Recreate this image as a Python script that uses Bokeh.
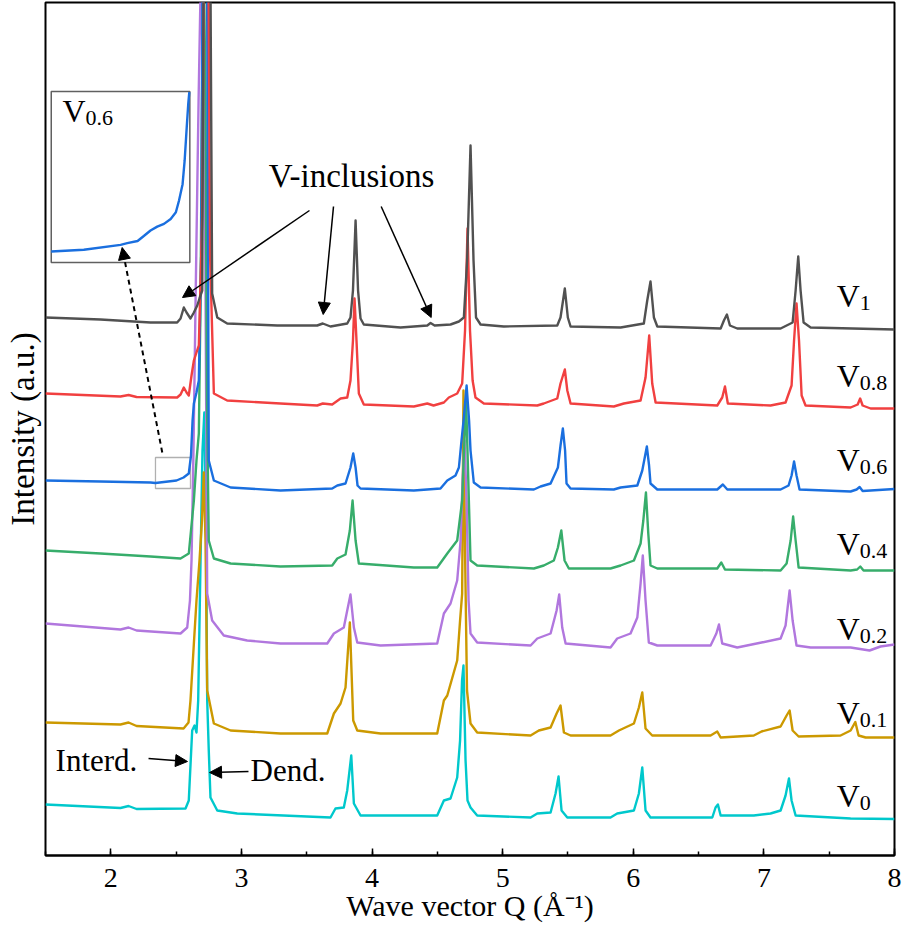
from bokeh.plotting import figure
from bokeh.models import Range1d, Label, Arrow, NormalHead, SingleIntervalTicker, LinearAxis, FixedTicker
from bokeh.embed import file_html
from bokeh.resources import INLINE

FONT = "Liberation Serif"

# ---------------- data (Q in 1/Angstrom, intensity in a.u. incl. offset) -------------
v1_q = [1.5, 1.921, 2.304, 2.508, 2.534, 2.559, 2.580, 2.610, 2.636, 2.662,
        2.679, 2.700, 2.711, 2.736, 2.762, 2.776, 2.815, 2.891,
        3.274, 3.580, 3.623, 3.682, 3.810, 3.835, 3.854, 3.874, 3.893, 3.912,
        3.937, 4.218, 4.423, 4.448, 4.479, 4.601, 4.665, 4.703, 4.728, 4.754,
        4.777, 4.796, 4.831, 5.009, 5.418, 5.443, 5.476, 5.499, 5.520, 5.903,
        6.081, 6.107, 6.132, 6.158, 6.184, 6.669, 6.694, 6.717, 6.740, 6.796,
        7.128, 7.220, 7.243, 7.263, 7.281, 7.304, 7.358, 8.0]
v1_i = [538, 536, 533, 533, 537, 548, 543, 537, 543, 550,
        557, 565, 900, 1000, 900, 562, 538, 532,
        530, 530, 532, 529, 532, 538, 565, 635, 565, 537,
        531, 528, 530, 532.5, 530, 531, 534, 538, 595, 710,
        595, 538, 531, 529, 530, 538, 567, 538, 529, 528,
        532, 555, 574, 538, 529, 527, 535, 541, 530, 527,
        527, 533, 565, 599, 565, 533, 528, 526]

v08_q = [1.5, 2.074, 2.136, 2.197, 2.508, 2.534, 2.559, 2.580, 2.597, 2.618,
         2.636, 2.656, 2.674, 2.700, 2.713, 2.736, 2.748, 2.760, 2.789, 2.891,
         3.299, 3.580, 3.623, 3.695, 3.759, 3.810, 3.835, 3.854, 3.866, 3.881,
         3.899, 3.937, 4.320, 4.423, 4.471, 4.550, 4.588, 4.652, 4.690, 4.712,
         4.731, 4.750, 4.770, 4.792, 4.856, 5.265, 5.315, 5.418, 5.443, 5.476,
         5.495, 5.520, 5.851, 5.928, 6.056, 6.094, 6.122, 6.145, 6.171, 6.643,
         6.681, 6.702, 6.724, 7.051, 7.166, 7.212, 7.231, 7.250, 7.269, 7.289,
         7.319, 7.664, 7.718, 7.737, 7.756, 7.817, 8.0]
v08_i = [462, 459, 460.5, 458.5, 458, 461, 468, 463, 460, 480,
         495, 503, 510, 640, 880, 1000, 880, 600, 462, 455,
         452, 450, 452, 451, 457, 458, 475, 515, 557, 515,
         462, 451, 449, 452, 450, 453, 458, 462, 472, 525,
         627, 525, 475, 458, 452, 450, 452, 457, 472, 486,
         465, 452, 449, 452, 455, 478, 520, 472, 453, 450,
         458, 469, 452, 450, 453, 470, 515, 552, 515, 460,
         450, 448, 451, 457, 450, 447, 447]

v06_q = [1.5, 1.921, 2.304, 2.342, 2.503, 2.557, 2.597, 2.614, 2.626, 2.636,
         2.656, 2.674, 2.692, 2.702, 2.720, 2.737, 2.750, 2.789, 2.917, 3.299,
         3.695, 3.734, 3.797, 3.835, 3.856, 3.874, 3.889, 3.912, 4.320, 4.524,
         4.576, 4.639, 4.665, 4.685, 4.703, 4.724, 4.743, 4.754, 4.779, 4.831,
         5.239, 5.290, 5.367, 5.423, 5.443, 5.461, 5.478, 5.489, 5.520, 5.851,
         5.903, 6.031, 6.069, 6.104, 6.121, 6.132, 6.184, 6.643, 6.686, 6.720,
         7.128, 7.189, 7.212, 7.231, 7.250, 7.273, 7.664, 7.710, 7.733, 7.756,
         8.0]
v06_i = [375, 374, 373, 372.5, 375, 378, 382, 400, 435, 452,
         463, 475, 600, 880, 1000, 880, 395, 375, 368, 365,
         367, 370, 372, 388, 402, 388, 370, 367, 365, 367,
         375, 380, 388, 415, 438, 470, 435, 405, 373, 368,
         366, 369, 372, 388, 410, 427, 405, 372, 367, 366,
         368, 370, 385, 409, 390, 372, 366, 366, 371, 366,
         366, 370, 380, 394, 380, 366, 364, 366, 368.5, 364.5,
         366.5]

v04_q = [1.5, 1.921, 2.304, 2.534, 2.597, 2.614, 2.636, 2.656, 2.674, 2.687,
         2.698, 2.710, 2.725, 2.736, 2.750, 2.789, 2.917, 3.299, 3.695, 3.734,
         3.797, 3.830, 3.851, 3.874, 3.899, 4.320, 4.499, 4.576, 4.652, 4.690,
         4.704, 4.720, 4.735, 4.754, 4.805, 5.239, 5.315, 5.392, 5.423, 5.449,
         5.474, 5.507, 5.826, 5.903, 6.005, 6.056, 6.077, 6.097, 6.115, 6.132,
         6.184, 6.643, 6.674, 6.702, 7.128, 7.174, 7.205, 7.224, 7.243, 7.266,
         7.664, 7.714, 7.738, 7.763, 8.0]
v04_i = [305, 302, 299, 297, 302, 325, 355, 395, 422, 555,
         755, 915, 755, 455, 315, 297, 292, 289, 290, 297,
         301, 325, 355, 315, 292, 288, 288, 302, 315, 355,
         405, 455, 385, 295, 290, 287, 290, 295, 308, 325,
         295, 287, 287, 290, 295, 312, 335, 363, 322, 290,
         287, 287, 293, 286, 285, 292, 315, 339, 315, 288,
         285, 286, 289, 285, 285]

v02_q = [1.5, 2.074, 2.136, 2.197, 2.534, 2.585, 2.606, 2.618, 2.633, 2.649,
         2.672, 2.694, 2.717, 2.738, 2.776, 2.865, 3.044, 3.299, 3.657, 3.708,
         3.784, 3.810, 3.835, 3.861, 3.887, 4.065, 4.499, 4.550, 4.601, 4.652,
         4.678, 4.693, 4.708, 4.724, 4.739, 4.754, 4.805, 5.214, 5.265, 5.367,
         5.413, 5.433, 5.456, 5.482, 5.826, 5.877, 5.979, 6.031, 6.056, 6.073,
         6.094, 6.119, 6.184, 6.592, 6.636, 6.656, 6.681, 6.796, 6.982, 7.128,
         7.166, 7.197, 7.220, 7.250, 7.358, 7.664, 7.809, 7.893, 8.0]
v02_i = [232, 226, 228, 225, 222, 228, 255, 295, 405, 555,
         755, 915, 755, 262, 235, 220, 215, 212, 212, 222,
         228, 245, 261, 228, 213, 210, 212, 242, 252, 275,
         315, 375, 415, 355, 255, 222, 213, 210, 217, 222,
         245, 261, 228, 212, 208, 217, 222, 238, 272, 300,
         255, 213, 210, 210, 222, 231, 212, 208, 213, 217,
         230, 265, 235, 210, 208, 208, 205, 209, 211]

v01_q = [1.5, 2.074, 2.136, 2.197, 2.557, 2.595, 2.610, 2.636, 2.656, 2.679,
         2.698, 2.712, 2.725, 2.738, 2.789, 2.917, 3.299, 3.657, 3.708, 3.759,
         3.797, 3.830, 3.856, 3.887, 4.065, 4.499, 4.550, 4.576, 4.652, 4.674,
         4.690, 4.700, 4.712, 4.727, 4.754, 4.805, 5.214, 5.277, 5.367, 5.413,
         5.443, 5.469, 5.520, 5.826, 5.890, 6.005, 6.043, 6.069, 6.094, 6.145,
         6.592, 6.643, 6.669, 6.923, 6.982, 7.128, 7.174, 7.197, 7.220, 7.266,
         7.587, 7.664, 7.700, 7.725, 7.779, 8.0]
v01_i = [133, 131, 133, 129.5, 127, 133, 155, 212, 255, 295,
         335, 383, 315, 165, 132, 125, 122, 122, 142, 152,
         168, 233, 135, 125, 122, 122, 155, 160, 195, 235,
         262, 465, 305, 165, 132, 123, 120, 125, 128, 142,
         150, 123, 120, 120, 125, 132, 148, 163, 127, 120,
         120, 124, 118, 120, 124, 129, 140, 145, 125, 119,
         120, 125, 133.5, 120, 118, 118]

v0_q = [1.5, 2.074, 2.136, 2.197, 2.572, 2.597, 2.623, 2.641, 2.656, 2.669,
        2.687, 2.702, 2.716, 2.729, 2.738, 2.750, 2.763, 2.815, 2.968, 3.682,
        3.720, 3.784, 3.810, 3.841, 3.861, 3.912, 4.499, 4.550, 4.601, 4.652,
        4.674, 4.689, 4.700, 4.716, 4.731, 4.754, 4.805, 5.214, 5.265, 5.367,
        5.405, 5.428, 5.451, 5.495, 5.826, 5.877, 6.005, 6.043, 6.069, 6.094,
        6.132, 6.605, 6.630, 6.648, 6.669, 6.923, 7.051, 7.128, 7.166, 7.192,
        7.212, 7.243, 7.664, 8.0]
v0_i = [51, 47.5, 49.5, 46.5, 47, 55, 125, 130, 123, 155,
        295, 405, 443, 335, 155, 105, 58, 45, 42, 38,
        47, 48, 65, 100, 52, 40, 40, 55, 57, 78,
        115, 175, 190, 95, 55, 48, 40, 38, 42, 43,
        62, 79, 45, 38, 38, 42, 45, 62, 88, 45,
        38, 38, 48, 51, 40, 40, 42, 45, 60, 77,
        55, 40, 37, 36.5]

# magnified V0.6 detail shown in the inset
inset_q = [2.342, 2.405, 2.476, 2.489, 2.509, 2.521, 2.534, 2.547, 2.560, 2.573,
           2.583, 2.589, 2.596, 2.600, 2.604, 2.607, 2.609]
inset_i = [369.0, 369.3, 370.2, 370.5, 370.9, 371.8, 372.8, 373.5, 374.0, 374.9,
           376.1, 378.2, 381.2, 385.5, 391.5, 395.8, 397.9]

series_q = [v1_q, v08_q, v06_q, v04_q, v02_q, v01_q, v0_q]
series_i = [v1_i, v08_i, v06_i, v04_i, v02_i, v01_i, v0_i]
series_sub = ["1", "0.8", "0.6", "0.4", "0.2", "0.1", "0"]
colors = ["#515151", "#F14040", "#1A6FDF", "#37AD6B", "#B177DE", "#CC9900", "#00C8CC"]
label_y = [560, 480, 396, 312, 227, 143, 60]

x_ticks_interval = 1

# magnification window and inset placement (main data coordinates)
zoom_q = (2.342, 2.610)
zoom_i = (367.0, 398.0)
box_q = (1.544, 2.605)
box_i = (593.0, 764.0)

# ----------------------------------------------------------------------------------
X0, X1, Y0, Y1 = 1.5, 8.0, 0.0, 853.0
p = figure(width=904, height=927, x_range=Range1d(X0, X1), y_range=Range1d(Y0, Y1),
           output_backend="svg", toolbar_location=None, y_axis_location=None,
           min_border_left=45, min_border_right=10, min_border_top=2, min_border_bottom=72)
p.xgrid.visible = False
p.ygrid.visible = False
p.outline_line_color = "black"
p.outline_line_width = 2
p.outline_line_alpha = 1.0
p.background_fill_color = "white"
p.border_fill_color = "white"

ax = p.xaxis[0]
ax.ticker = SingleIntervalTicker(interval=x_ticks_interval, num_minor_ticks=2)
ax.major_tick_in = 7
ax.major_tick_out = 0
ax.minor_tick_in = 4
ax.minor_tick_out = 0
ax.axis_line_width = 2
ax.major_tick_line_width = 1.5
ax.minor_tick_line_width = 1.5
ax.major_label_text_font = FONT
ax.major_label_text_font_size = "28px"
ax.major_label_text_color = "black"
ax.major_label_standoff = 13
ax.axis_label = "Wave vector Q (Å⁻¹)"
ax.axis_label_text_font = FONT
ax.axis_label_text_font_size = "30px"
ax.axis_label_text_font_style = "normal"
ax.axis_label_text_color = "black"
ax.axis_label_standoff = -1

yax = LinearAxis(ticker=FixedTicker(ticks=[]), axis_label="Intensity (a.u.)",
                 axis_line_color=None, major_tick_line_color=None, minor_tick_line_color=None,
                 major_tick_out=0, minor_tick_out=0, major_tick_in=0, minor_tick_in=0,
                 axis_label_standoff=5, axis_label_text_font=FONT,
                 axis_label_text_font_size="33px", axis_label_text_font_style="normal",
                 axis_label_text_color="black")
p.add_layout(yax, "left")

# inset ranges, derived so that the zoom window fills the inset box
sx = (zoom_q[1] - zoom_q[0]) / (box_q[1] - box_q[0])
sy = (zoom_i[1] - zoom_i[0]) / (box_i[1] - box_i[0])
p.extra_x_ranges = {"ix": Range1d(zoom_q[0] - (box_q[0] - X0) * sx, zoom_q[1] + (X1 - box_q[1]) * sx)}
p.extra_y_ranges = {"iy": Range1d(zoom_i[0] - (box_i[0] - Y0) * sy, zoom_i[1] + (Y1 - box_i[1]) * sy)}

# boxes
p.quad(left=[zoom_q[0]], right=[zoom_q[1]], bottom=[zoom_i[0]], top=[zoom_i[1]],
       fill_alpha=0, line_color="#b0b0b0", line_width=1.3)
p.quad(left=[box_q[0]], right=[box_q[1]], bottom=[box_i[0]], top=[box_i[1]],
       fill_color="white", line_color="#606060", line_width=1.5)

# lowest curve first so the upper curves sit on top in the crowded main peak
for q, it, c in reversed(list(zip(series_q, series_i, colors))):
    assert len(q) == len(it)
    p.line(q, it, line_color=c, line_width=2.4, line_join="round")

p.line(inset_q, inset_i, line_color=colors[2], line_width=2.4,
       x_range_name="ix", y_range_name="iy")

def lab(x, y, text, size, align="left", baseline="alphabetic", style="normal"):
    p.add_layout(Label(x=x, y=y, text=text, text_font=FONT, text_font_size=size,
                       text_align=align, text_baseline=baseline, text_color="black",
                       text_font_style=style))

# curve labels
for sub, yy in zip(series_sub, label_y):
    lab(7.557, yy, "V", "32px")
    lab(7.733, yy - 7, sub, "22px")

# inset label
lab(1.630, 745, "V", "32px")
lab(1.806, 738, "0.6", "22px")

# annotations
lab(3.843, 680, "V-inclusions", "33px", align="center")
lab(1.577, 95, "Interd.", "31px")
lab(3.070, 85, "Dend.", "31px")

def arrow(x0, y0, x1, y1, dash="solid", lw=1.5):
    p.add_layout(Arrow(end=NormalHead(size=12, fill_color="black", line_color="black"),
                       x_start=x0, y_start=y0, x_end=x1, y_end=y1,
                       line_color="black", line_width=lw, line_dash=dash))

arrow(3.521, 645, 2.549, 558)
arrow(3.705, 649, 3.626, 541)
arrow(4.070, 649, 4.453, 538)
arrow(2.289, 97, 2.587, 94)
arrow(3.054, 84, 2.756, 83)
arrow(2.394, 403, 2.087, 608, dash="5 4", lw=2)

open("out.html", "w").write(file_html(p, INLINE))
